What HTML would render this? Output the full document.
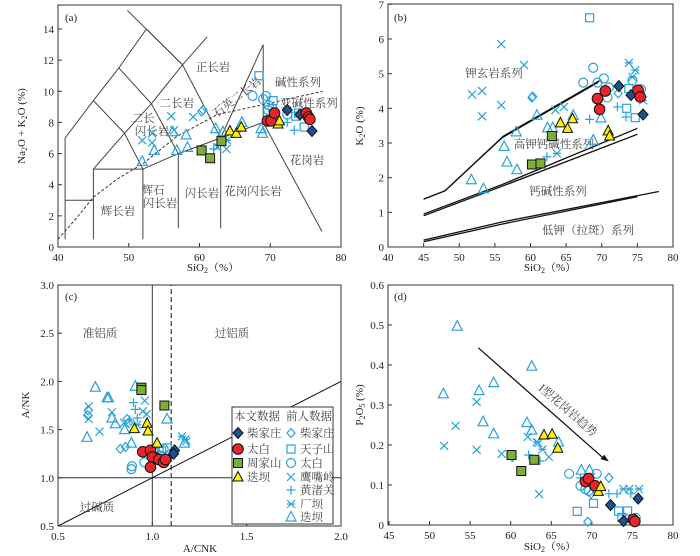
<!DOCTYPE html>
<html><head><meta charset="utf-8">
<style>
html,body{margin:0;padding:0;background:#fff;}
svg{display:block;font-family:"Liberation Serif","Noto Serif CJK SC","Noto Sans CJK SC",serif;}
.t{font-size:11px;fill:#222;}
.cn{font-size:11.5px;fill:#444;font-family:"Liberation Serif","Noto Serif CJK SC","Noto Sans CJK SC",serif;}
</style></head>
<body>
<svg id="chart" width="700" height="556" viewBox="0 0 700 556"></svg>
<script>
// ===== Panel (a) TAS data =====
const aChaiThis=[[72.4,8.8],[74.2,8.5],[75.9,7.45]];
const aTaibaiThis=[[69.6,8.1],[70.1,8.1],[70.6,8.6],[75.1,8.6],[75.4,8.35],[75.6,8.2]];
const aZhouThis=[[60.3,6.2],[61.5,5.7],[63.1,6.8]];
const aDiebaThis=[[64.3,7.45],[65.2,7.3],[65.9,7.7],[71.1,7.9],[71.3,8.1]];
const aChaiPrev=[[60.3,8.7],[60.5,8.8]];
const aTianPrev=[[68.4,11.0],[70.4,9.4],[74.8,7.7],[74.0,8.6],[73.6,8.4]];
const aTaibaiPrev=[[67.5,9.7],[69.4,9.7],[69.0,9.5],[69.8,9.1],[70.3,8.9],[69.7,8.8],[72.4,8.5]];
const aYingPrev=[[51.9,6.85],[53.3,7.3],[53.3,6.7],[56.0,8.4],[59.1,8.35],[56.4,7.5],[62.5,6.4],[63.8,6.3]];
const aHuangPrev=[[62.0,6.3],[72.4,8.0],[73.4,7.5],[65.3,7.4],[62.7,6.6]];
const aChangPrev=[[63.3,7.0],[63.9,6.85]];
const aDiebaPrev=[[51.9,5.5],[53.6,6.2],[56.2,7.4],[58.1,7.2],[58.3,6.4],[56.8,6.2],[62.3,7.6],[63.3,7.4],[66.0,8.0],[68.9,7.3],[68.7,7.6]];
const aXTicks=[40,50,60,70,80];
const aYTicks=[0,2,4,6,8,10,12,14];
// ===== Panel (b) K2O data =====
const bChaiThis=[[72.4,4.64],[74.1,4.38],[75.8,3.82]];
const bTaibaiThis=[[69.4,4.28],[70.5,4.5],[69.7,3.97],[75.1,4.52],[75.4,4.33]];
const bZhouThis=[[60.2,2.38],[61.4,2.41],[63.0,3.2]];
const bDiebaThis=[[64.2,3.58],[65.2,3.42],[65.9,3.7],[70.9,3.35],[71.1,3.2]];
const bChaiPrev=[[60.2,4.31],[60.3,4.34],[72.3,4.43]];
const bTianPrev=[[68.3,6.61],[73.8,4.57],[73.5,4.0],[74.7,3.73]];
const bTaibaiPrev=[[67.4,4.74],[68.8,5.17],[69.4,4.74],[70.3,4.86],[70.8,4.31],[71.0,4.6],[74.3,4.8],[75.5,4.55]];
const bYingPrev=[[55.9,5.85],[59.1,5.25],[51.8,4.4],[53.2,4.5],[53.2,3.77],[55.9,4.09],[63.5,3.95],[64.7,4.04]];
const bHuangPrev=[[62.3,2.6],[68.3,3.68],[72.2,4.04],[73.4,3.75]];
const bChangPrev=[[73.8,5.31],[74.7,5.1],[74.3,4.9],[75.8,4.23],[63.7,2.7]];
const bDiebaPrev=[[51.7,1.94],[53.4,1.68],[56.3,2.9],[56.7,2.45],[58.1,2.23],[58.0,3.32],[60.9,3.8],[62.4,3.44],[63.1,3.44],[66.0,3.8],[69.9,3.72],[68.8,3.08]];
const bXTicks=[40,45,50,55,60,65,70,75,80];
const bYTicks=[0,1,2,3,4,5,6,7];
// ===== Panel (c) A/CNK vs A/NK data =====
const cChaiThis=[[1.118,1.285],[1.113,1.25],[1.025,1.21]];
const cTaibaiThis=[[0.949,1.27],[0.99,1.285],[1.0,1.215],[0.99,1.11],[1.034,1.19],[1.06,1.16],[1.07,1.19]];
const cZhouThis=[[0.942,1.935],[0.942,1.91],[1.064,1.75]];
const cDiebaThis=[[0.905,1.51],[0.972,1.565],[0.977,1.485],[1.025,1.36]];
const cChaiPrev=[[0.657,1.65],[0.66,1.7],[0.83,1.3],[0.857,1.32],[0.866,1.61],[0.875,1.57]];
const cTianPrev=[[1.05,1.28],[1.078,1.31]];
const cTaibaiPrev=[[0.892,1.12],[0.889,1.09],[0.958,1.16],[1.016,1.26],[1.042,1.23],[1.06,1.3]];
const cYingPrev=[[0.663,1.74],[0.663,1.61],[0.72,1.48],[0.786,1.68],[0.96,1.8],[0.95,1.69],[0.97,1.66],[0.85,1.57],[1.18,1.38]];
const cHuangPrev=[[0.9,1.78],[0.91,1.71],[0.92,1.62],[0.88,1.6]];
const cChangPrev=[[1.175,1.4],[1.157,1.43],[0.92,1.55]];
const cDiebaPrev=[[0.698,1.94],[0.76,1.83],[0.768,1.83],[0.786,1.62],[0.804,1.56],[0.654,1.42],[0.91,1.95],[0.889,1.36],[0.853,1.5],[1.078,1.61],[1.17,1.36]];
const cXTicks=[0.5,1.0,1.5,2.0];
const cYTicks=[0.5,1.0,1.5,2.0,2.5,3.0];
// ===== Panel (d) P2O5 data =====
const dChaiThis=[[72.3,0.05],[73.9,0.01],[75.7,0.066]];
const dTaibaiThis=[[69.2,0.109],[69.6,0.116],[70.4,0.098],[75.1,0.014],[75.3,0.009]];
const dZhouThis=[[60.1,0.175],[61.3,0.135],[62.9,0.163]];
const dDiebaThis=[[64.1,0.225],[65.1,0.227],[65.8,0.192],[70.8,0.084],[71.1,0.096]];
const dChaiPrev=[[72.1,0.118],[69.5,0.008],[69.9,0.078],[60.2,0.17]];
const dTianPrev=[[68.2,0.034],[70.2,0.054],[73.3,0.035],[74.4,0.035],[73.7,0.019]];
const dTaibaiPrev=[[67.2,0.128],[68.6,0.098],[69.2,0.09],[70.6,0.128],[69.6,0.085],[75.4,0.018]];
const dYingPrev=[[51.8,0.198],[53.2,0.248],[55.8,0.308],[55.8,0.188],[58.9,0.178],[62.1,0.22],[63.5,0.077],[63.4,0.205],[64.7,0.17]];
const dHuangPrev=[[62.2,0.175],[63.6,0.16],[68.6,0.118],[72.1,0.078],[73.1,0.078],[74.8,0.078]];
const dChangPrev=[[63.2,0.207],[63.9,0.189],[73.9,0.09],[74.6,0.09],[75.8,0.09]];
const dDiebaPrev=[[53.4,0.497],[62.6,0.397],[51.7,0.328],[56.1,0.336],[57.9,0.356],[56.6,0.258],[57.9,0.228],[62.0,0.256],[62.6,0.237],[65.9,0.207],[68.7,0.137],[69.7,0.137]];
const dXTicks=[45,50,55,60,65,70,75,80];
const dYTicks=[0,0.1,0.2,0.3,0.4,0.5,0.6];

const NS='http://www.w3.org/2000/svg';
const svg=document.getElementById('chart');
const BLUE='#2aa2db';
function el(tag,attrs,parent){const e=document.createElementNS(NS,tag);for(const k in attrs)e.setAttribute(k,attrs[k]);(parent||svg).appendChild(e);return e;}
function lin(d0,d1,p0,p1){return v=>p0+(v-d0)*(p1-p0)/(d1-d0);}

function marker(type,cx,cy,g){
  let e;
  const fs={stroke:'#111','stroke-width':1};
  const hs={stroke:BLUE,'stroke-width':1.2,fill:'none'};
  if(type==='diaF'){e=el('path',Object.assign({d:`M${cx},${cy-5.5}L${cx+5},${cy}L${cx},${cy+5.5}L${cx-5},${cy}Z`,fill:'#1e4f8f'},fs),g);}
  else if(type==='cirF'){e=el('circle',Object.assign({cx,cy,r:5.3,fill:'#e9252a'},fs),g);}
  else if(type==='sqF'){e=el('rect',Object.assign({x:cx-4.5,y:cy-4.5,width:9,height:9,fill:'#7cae38'},fs),g);}
  else if(type==='triF'){e=el('path',Object.assign({d:`M${cx},${cy-5.5}L${cx+5},${cy+4}L${cx-5},${cy+4}Z`,fill:'#fff200'},fs),g);}
  else if(type==='dia'){e=el('path',Object.assign({d:`M${cx},${cy-4.5}L${cx+4},${cy}L${cx},${cy+4.5}L${cx-4},${cy}Z`},hs),g);}
  else if(type==='sq'){e=el('rect',Object.assign({x:cx-4,y:cy-4,width:8,height:8},hs),g);}
  else if(type==='cir'){e=el('circle',Object.assign({cx,cy,r:4.5},hs),g);}
  else if(type==='x'){e=el('path',Object.assign({d:`M${cx-4},${cy-4}L${cx+4},${cy+4}M${cx+4},${cy-4}L${cx-4},${cy+4}`},hs),g);}
  else if(type==='plus'){e=el('path',Object.assign({d:`M${cx-4.5},${cy}L${cx+4.5},${cy}M${cx},${cy-4.5}L${cx},${cy+4.5}`},hs),g);}
  else if(type==='star'){e=el('path',Object.assign({d:`M${cx-4},${cy-4}L${cx+4},${cy+4}M${cx+4},${cy-4}L${cx-4},${cy+4}M${cx-4},${cy}L${cx+4},${cy}`},hs),g);}
  else if(type==='tri'){e=el('path',Object.assign({d:`M${cx},${cy-5.5}L${cx+5},${cy+4}L${cx-5},${cy+4}Z`},hs),g);}
  return e;
}

function seriesDraw(g,data,type,sx,sy,name){
  const sg=el('g',{},g);
  
  
  data.forEach(p=>{
    const m=marker(type,sx(p[0]),sy(p[1]),sg);
    
    
  });
}

function frame(g,x0,y0,x1,y1,xt,yt,sx,sy,fmtX,fmtY,name){
  const f=el('rect',{x:x0,y:y0,width:x1-x0,height:y1-y0,fill:'none',stroke:'#333','stroke-width':1},g);
  
  
  xt.forEach(v=>{
    const x=sx(v);
    el('line',{x1:x,x2:x,y1:y1,y2:y1-4,stroke:'#333'},g);
    const t=el('text',{x:x,y:y1+14,'text-anchor':'middle',class:'t'},g);t.textContent=fmtX(v);
    
    
  });
  yt.forEach(v=>{
    const y=sy(v);
    el('line',{x1:x0,x2:x0+4,y1:y,y2:y,stroke:'#333'},g);
    const t=el('text',{x:x0-4,y:y+4,'text-anchor':'end',class:'t'},g);t.textContent=fmtY(v);
    
    
  });
}
function txt(g,x,y,s,cls,name,extra){
  const t=el('text',Object.assign({x,y,class:cls||'cn','text-anchor':'middle'},extra||{}),g);
  t.textContent=s;
  
  
  return t;
}
function poly(g,pts,sx,sy,attrs){
  const d=pts.map((p,i)=>(i?'L':'M')+sx(p[0]).toFixed(1)+','+sy(p[1]).toFixed(1)).join('');
  return el('path',Object.assign({d,fill:'none',stroke:'#444','stroke-width':1},attrs||{}),g);
}
function allSeries(g,sx,sy,arr){
  const types=['diaF','cirF','sqF','triF','dia','sq','cir','x','plus','star','tri'];
  const names=['chaijiazhuang-this','taibai-this','zhoujiashan-this','dieba-this','chaijiazhuang-prev','tianzishan-prev','taibai-prev','yingzuling-prev','huangzhuguan-prev','changba-prev','dieba-prev'];
  for(let i=4;i<11;i++)seriesDraw(g,arr[i],types[i],sx,sy,names[i]);
  for(let i=0;i<4;i++)seriesDraw(g,arr[i],types[i],sx,sy,names[i]);
}

// ---------- Panel A ----------
(function(){
  const g=el('g',{});
  
  
  const sx=lin(40,80,58,341), sy=lin(0,14,247,29);
  const L=[
    [[41,0.5],[41,7],[45,9.4],[48.6,11.5],[52.5,14]],
    [[41,3],[45,3]],[[45,0.5],[45,5],[52,5]],[[52,0.5],[52,5],[57,6],[63,7],[69,8]],
    [[57,1.2],[57,6]],[[63,1.2],[63,7]],[[63,7],[69,13],[69,8],[77.3,1]],
    [[52.5,14],[57.6,11.7],[61.1,13.5]],[[49.8,15.2],[57.6,11.7],[63,7]],
    [[45,9.4],[49.4,7.3],[52,5]],[[45,5],[49.4,7.3]],
    [[48.6,11.5],[53.2,9.2],[57.6,11.7]],[[53.2,9.2],[49.4,7.3]],[[53.2,9.2],[57,6]]
  ];
  L.forEach(p=>{const e=poly(g,p,sx,sy);});
  const dash=poly(g,[[40,0.5],[42.5,1.8],[45,3.2],[48.5,4.4],[52,5.35],[56.8,7.1],[62.5,8.5],[69.6,9.2],[77.4,10]],sx,sy,{'stroke-dasharray':'3,2','stroke':'#333'});
  
  
  frame(g,58,5,341,247,aXTicks,aYTicks,sx,sy,v=>v,v=>v,'panel-a');
  txt(g,213,71,'正长岩','cn','label-syenite');
  txt(g,177,107,'二长岩','cn','label-monzonite');
  txt(g,237,101,'石英二长岩','cn','label-quartz-monzonite',{transform:'rotate(-38 237 97)'});
  txt(g,298,86,'碱性系列','cn','label-alkaline-series');
  txt(g,309,107,'亚碱性系列','cn','label-subalkaline-series');
  txt(g,143,122,'二长','cn','label-monzodiorite-1');
  txt(g,152,135,'闪长岩','cn','label-monzodiorite-2');
  txt(g,307,164,'花岗岩','cn','label-granite');
  txt(g,153,194,'辉石','cn','label-gabbrodiorite-1');
  txt(g,160,207,'闪长岩','cn','label-gabbrodiorite-2');
  txt(g,202,197,'闪长岩','cn','label-diorite');
  txt(g,253,195,'花岗闪长岩','cn','label-granodiorite');
  txt(g,118,215,'辉长岩','cn','label-gabbro');
  allSeries(g,sx,sy,[aChaiThis,aTaibaiThis,aZhouThis,aDiebaThis,aChaiPrev,aTianPrev,aTaibaiPrev,aYingPrev,aHuangPrev,aChangPrev,aDiebaPrev]);
  txt(g,72,21,'(a)','t','panel-a-label',{'text-anchor':'start','x':65});
  const xt=el('text',{x:213,y:271,'text-anchor':'middle',class:'t'},g);xt.innerHTML='SiO<tspan font-size="8" dy="2">2</tspan><tspan dy="-2">（%）</tspan>';
  
  
  const yt=el('text',{x:0,y:0,'text-anchor':'middle',class:'t',transform:'translate(25,126) rotate(-90)'},g);yt.innerHTML='Na<tspan font-size="8" dy="2">2</tspan><tspan dy="-2">O + K</tspan><tspan font-size="8" dy="2">2</tspan><tspan dy="-2">O (%)</tspan>';
  
  
})();

// ---------- Panel B ----------
(function(){
  const g=el('g',{});
  
  
  const sx=lin(40,80,388,673), sy=lin(0,7,247,4.3);
  const L=[
    [[45,1.38],[48,1.62],[56,3.15],[69.5,4.75]],[[45,1.38],[48,1.62],[56.2,3.2],[69.7,4.8]],
    [[45,0.95],[56,1.8],[75,3.42]],[[45,0.9],[56,1.75],[75,3.25]],
    [[45,0.2],[56,0.72],[78,1.6]],[[45,0.15],[56,0.66],[75,1.45]]
  ];
  L.forEach(p=>{const e=poly(g,p,sx,sy,{stroke:'#111','stroke-width':1.3});});
  frame(g,388,4,673,247,bXTicks,bYTicks,sx,sy,v=>v,v=>v,'panel-b');
  txt(g,494,77,'钾玄岩系列','cn','label-shoshonite-series');
  txt(g,554,148,'高钾钙碱性系列','cn','label-high-k-calc-alkaline');
  txt(g,558,195,'钙碱性系列','cn','label-calc-alkaline');
  txt(g,588,234,'低钾（拉斑）系列','cn','label-low-k-tholeiite');
  allSeries(g,sx,sy,[bChaiThis,bTaibaiThis,bZhouThis,bDiebaThis,bChaiPrev,bTianPrev,bTaibaiPrev,bYingPrev,bHuangPrev,bChangPrev,bDiebaPrev]);
  txt(g,394,21,'(b)','t','panel-b-label',{'text-anchor':'start'});
  const xt=el('text',{x:550,y:271,'text-anchor':'middle',class:'t'},g);xt.innerHTML='SiO<tspan font-size="8" dy="2">2</tspan><tspan dy="-2">（%）</tspan>';
  
  
  const yt=el('text',{x:0,y:0,'text-anchor':'middle',class:'t',transform:'translate(363,126) rotate(-90)'},g);yt.innerHTML='K<tspan font-size="8" dy="2">2</tspan><tspan dy="-2">O (%)</tspan>';
  
  
})();

// ---------- Panel C ----------
(function(){
  const g=el('g',{});
  
  
  const sx=lin(0.5,2.0,58,341), sy=lin(0.5,3.0,526,285);
  const l1=poly(g,[[1,0.5],[1,3]],sx,sy,{stroke:'#333'});
  const l2=poly(g,[[1.1,0.5],[1.1,3]],sx,sy,{stroke:'#444','stroke-dasharray':'5,3','stroke-width':1.3});
  const l3=poly(g,[[0.5,1],[2,1]],sx,sy,{stroke:'#333'});
  const l4=poly(g,[[0.5,0.5],[2,2]],sx,sy,{stroke:'#111'});
  frame(g,58,285,341,526,cXTicks,cYTicks,sx,sy,v=>v.toFixed(1),v=>v.toFixed(1),'panel-c');
  txt(g,100,337,'准铝质','cn','label-metaluminous');
  txt(g,232,337,'过铝质','cn','label-peraluminous');
  txt(g,97,511,'过碱质','cn','label-peralkaline');
  allSeries(g,sx,sy,[cChaiThis,cTaibaiThis,cZhouThis,cDiebaThis,cChaiPrev,cTianPrev,cTaibaiPrev,cYingPrev,cHuangPrev,cChangPrev,cDiebaPrev]);
  const lg=el('g',{},g);
  
  
  el('rect',{x:232,y:407,width:101,height:117,fill:'#fff',stroke:'#333'},lg);
  txt(lg,257,420,'本文数据','cn','legend-header-this-study',{'font-size':'10.5'});
  txt(lg,309,420,'前人数据','cn','legend-header-previous',{'font-size':'10.5'});
  const leftT=['diaF','cirF','sqF','triF'], leftN=['柴家庄','太白','周家山','迭坝'], leftY=[433,449,463,477];
  const rightT=['dia','sq','cir','x','plus','star','tri'], rightN=['柴家庄','天子山','太白','鹰嘴岭','黄渚关','厂坝','迭坝'], rightY=[433,449,463,477,490,504,517];
  leftT.forEach((t,i)=>{
    const e=el('g',{},lg);
    
    
    marker(t,238,leftY[i],e);
    const s=el('text',{x:247,y:leftY[i]+4,class:'cn','font-size':'10.5'},e);s.textContent=leftN[i];
  });
  rightT.forEach((t,i)=>{
    const e=el('g',{},lg);
    
    
    marker(t,291,rightY[i],e);
    const s=el('text',{x:300,y:rightY[i]+4,class:'cn','font-size':'10.5'},e);s.textContent=rightN[i];
  });
  txt(g,65,300,'(c)','t','panel-c-label',{'text-anchor':'start'});
  txt(g,200,552,'A/CNK','t','panel-c-x-axis-title');
  txt(g,0,0,'A/NK','t','panel-c-y-axis-title',{transform:'translate(29,405) rotate(-90)'});
})();

// ---------- Panel D ----------
(function(){
  const g=el('g',{});
  
  
  const sx=lin(45,80,389,673), sy=lin(0,0.6,525,285);
  frame(g,388,285,673,525,dXTicks,dYTicks,sx,sy,v=>v,v=>v===0?'0':v.toFixed(1),'panel-d');
  const ar=poly(g,[[56.0,0.443],[71.7,0.162]],sx,sy,{stroke:'#111','stroke-width':1.3});
  
  
  const hx=sx(72.1),hy=sy(0.159);
  const ah=el('path',{d:`M${hx},${hy}l-8.5,-2.3l3.8,-4.4Z`,fill:'#111'},g);
  
  
  txt(g,568,414,'I型花岗岩趋势','cn','label-i-type-trend',{transform:'rotate(41 568 410)'});
  allSeries(g,sx,sy,[dChaiThis,dTaibaiThis,dZhouThis,dDiebaThis,dChaiPrev,dTianPrev,dTaibaiPrev,dYingPrev,dHuangPrev,dChangPrev,dDiebaPrev]);
  txt(g,394,300,'(d)','t','panel-d-label',{'text-anchor':'start'});
  const xt=el('text',{x:550,y:550,'text-anchor':'middle',class:'t'},g);xt.innerHTML='SiO<tspan font-size="8" dy="2">2</tspan><tspan dy="-2">（%）</tspan>';
  
  
  const yt=el('text',{x:0,y:0,'text-anchor':'middle',class:'t',transform:'translate(363,405) rotate(-90)'},g);yt.innerHTML='P<tspan font-size="8" dy="2">2</tspan><tspan dy="-2">O</tspan><tspan font-size="8" dy="2">5</tspan><tspan dy="-2"> (%)</tspan>';
  
  
})();
</script>
</body></html>
